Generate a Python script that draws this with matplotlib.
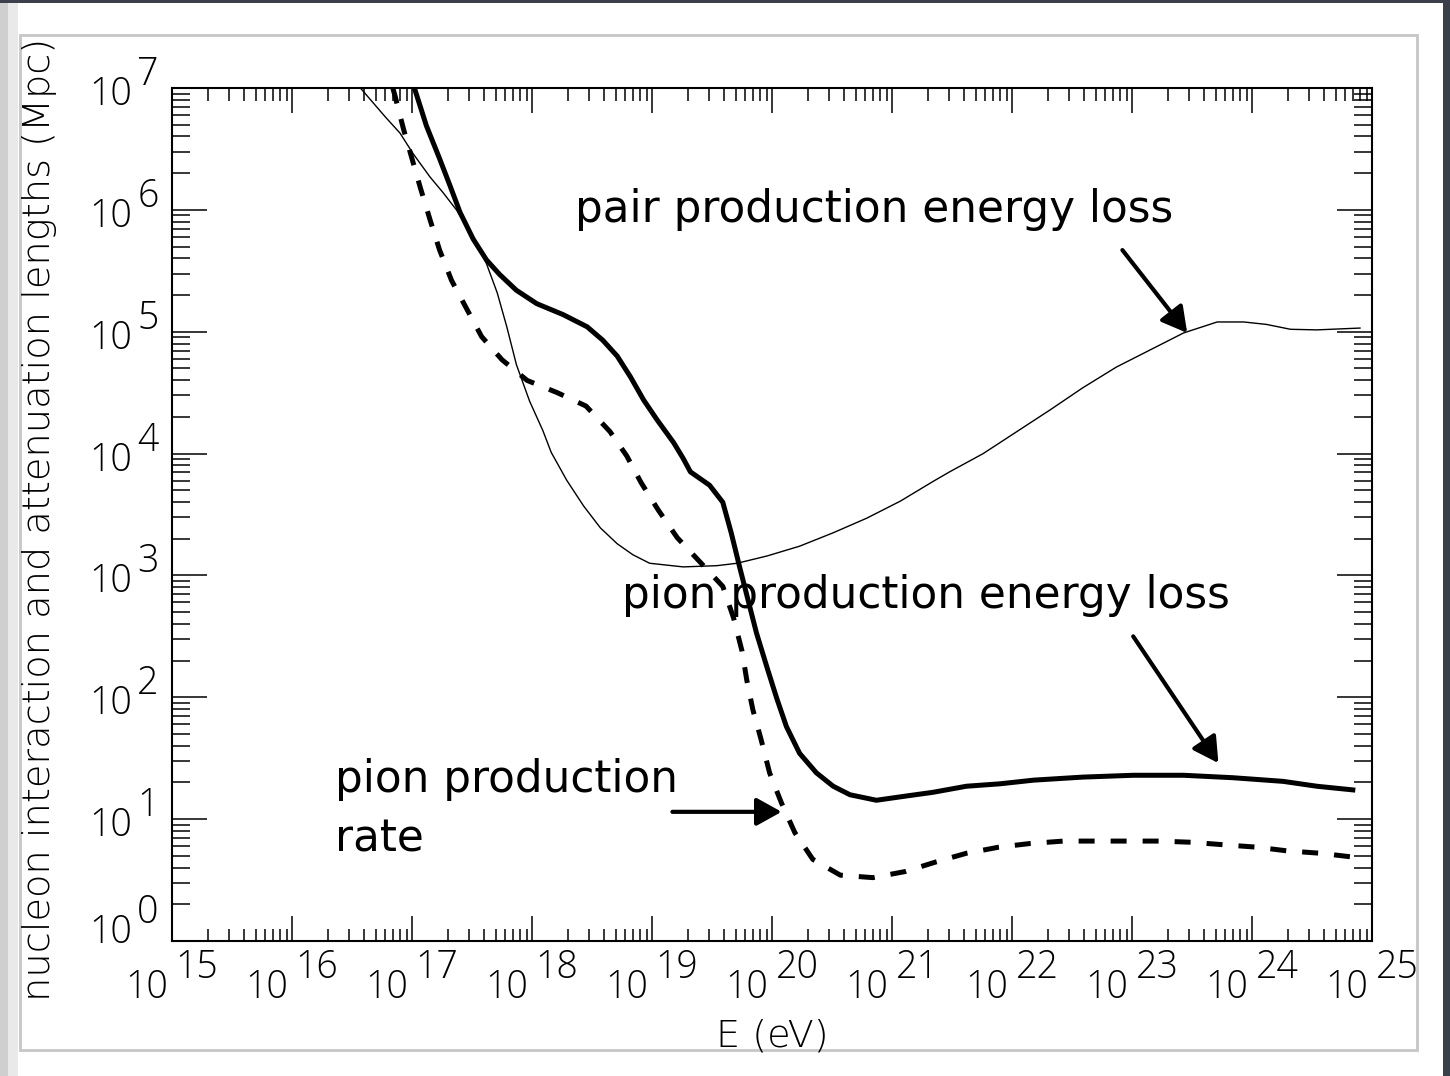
import matplotlib.pyplot as plt
import numpy as np
from matplotlib.patches import Rectangle
from matplotlib.ticker import LogLocator, NullFormatter

# curves: log10(E / eV) and log10(length / Mpc)
pair_logE = [16.57, 16.78, 16.9, 17.01, 17.15, 17.26, 17.37, 17.51, 17.62, 17.71,
             17.79, 17.87, 17.98, 18.09, 18.16, 18.29, 18.43, 18.57, 18.71, 18.84,
             18.98, 19.26, 19.54, 19.71, 19.96, 20.23, 20.51, 20.79, 21.07, 21.34,
             21.48, 21.76, 22.04, 22.32, 22.59, 22.87, 23.15, 23.43, 23.71, 23.93,
             24.12, 24.32, 24.54, 24.9]
pair_logL = [7.0, 6.76, 6.63, 6.46, 6.27, 6.14, 6.0, 5.78, 5.56, 5.32,
             5.04, 4.73, 4.43, 4.19, 4.01, 3.78, 3.57, 3.39, 3.26, 3.17,
             3.10, 3.07, 3.08, 3.10, 3.16, 3.24, 3.35, 3.47, 3.61, 3.77,
             3.85, 4.0, 4.18, 4.36, 4.54, 4.71, 4.85, 4.99, 5.08, 5.08,
             5.06, 5.02, 5.015, 5.03]

loss_logE = [17.02, 17.12, 17.23, 17.32, 17.40, 17.51, 17.62, 17.73, 17.87, 18.04,
             18.26, 18.46, 18.59, 18.71, 18.82, 18.93, 19.04, 19.18, 19.26, 19.32,
             19.48, 19.59, 19.66, 19.73, 19.80, 19.87, 19.96, 20.04, 20.12, 20.23,
             20.37, 20.51, 20.65, 20.87, 21.12, 21.34, 21.62, 21.9, 22.18, 22.59,
             23.01, 23.43, 23.84, 24.26, 24.54, 24.84]
loss_logL = [7.0, 6.69, 6.42, 6.19, 5.98, 5.76, 5.59, 5.47, 5.34, 5.23,
             5.14, 5.04, 4.93, 4.80, 4.63, 4.44, 4.28, 4.09, 3.96, 3.85,
             3.74, 3.60, 3.35, 3.07, 2.80, 2.53, 2.24, 1.99, 1.76, 1.54,
             1.38, 1.27, 1.20, 1.155, 1.19, 1.22, 1.27, 1.29, 1.32, 1.345,
             1.36, 1.36, 1.34, 1.31, 1.27, 1.24]

rate_logE = [16.84, 16.86, 16.93, 17.0, 17.07, 17.15, 17.23, 17.33, 17.46, 17.58,
             17.75, 17.96, 18.21, 18.45, 18.65, 18.79, 18.91, 19.05, 19.21, 19.41,
             19.59, 19.68, 19.75, 19.79, 19.84, 19.91, 19.98, 20.08, 20.19, 20.34,
             20.57, 20.84, 21.11, 21.37, 21.62, 21.89, 22.15, 22.43, 22.71, 22.97,
             23.23, 23.5, 23.76, 24.04, 24.29, 24.57, 24.83]
rate_logL = [7.0, 6.93, 6.66, 6.42, 6.18, 5.92, 5.67, 5.42, 5.18, 4.96,
             4.77, 4.60, 4.50, 4.39, 4.18, 3.98, 3.76, 3.54, 3.31, 3.10,
             2.91, 2.65, 2.38, 2.14, 1.90, 1.65, 1.38, 1.13, 0.89, 0.67,
             0.54, 0.52, 0.57, 0.65, 0.72, 0.77, 0.80, 0.82, 0.82, 0.82,
             0.82, 0.81, 0.79, 0.77, 0.74, 0.72, 0.69]

x_decades = list(range(15, 26))
y_decades = list(range(0, 8))

W, H = 1450, 1076
fig = plt.figure(figsize=(W / 100, H / 100), dpi=100, facecolor='white')

# slide-like frame around the plot
fig.add_artist(Rectangle((0, 0), 8 / W, 1, transform=fig.transFigure,
                         facecolor='#cfcfcf', edgecolor='none', zorder=-3))
fig.add_artist(Rectangle((8 / W, 0), 10 / W, 1, transform=fig.transFigure,
                         facecolor='#e9e9e9', edgecolor='none', zorder=-3))
fig.add_artist(Rectangle((0, 1 - 3 / H), 1, 3 / H, transform=fig.transFigure,
                         facecolor='#3c404a', edgecolor='none', zorder=-3))
fig.add_artist(Rectangle((1443 / W, 0), 7 / W, 1, transform=fig.transFigure,
                         facecolor='#3c404a', edgecolor='none', zorder=-3))
fig.add_artist(Rectangle((20 / W, 1 - 1050 / H), 1397 / W, 1015 / H,
                         transform=fig.transFigure, facecolor='white',
                         edgecolor='#c6c6c6', lw=2, zorder=-2))

ax = fig.add_axes([172 / W, 1 - 941 / H, 1200 / W, 853 / H])
ax.set_xscale('log')
ax.set_yscale('log')
ax.set_xlim(1e15, 1e25)
ax.set_ylim(1e0, 1e7)

ax.plot(10.0 ** np.array(pair_logE), 10.0 ** np.array(pair_logL), color='black', lw=1.0)
ax.plot(10.0 ** np.array(loss_logE), 10.0 ** np.array(loss_logL), color='black', lw=3.6,
        solid_joinstyle='round')
ax.plot(10.0 ** np.array(rate_logE), 10.0 ** np.array(rate_logL), color='black', lw=3.6,
        linestyle=(0, (3.2, 3.2)), dash_capstyle='butt')

for s in ax.spines.values():
    s.set_linewidth(1.5)

for axis in (ax.xaxis, ax.yaxis):
    axis.set_major_locator(LogLocator(base=10, numticks=100))
    axis.set_minor_locator(LogLocator(base=10, subs=np.arange(2, 10), numticks=100))
    axis.set_major_formatter(NullFormatter())
    axis.set_minor_formatter(NullFormatter())
ax.tick_params(which='both', direction='in', top=True, right=True, width=1.1, color='black')
ax.tick_params(axis='x', which='major', length=18)
ax.tick_params(axis='x', which='minor', length=9)
ax.tick_params(axis='y', which='major', length=25)
ax.tick_params(axis='y', which='minor', length=13)

tick_font = dict(family=['Open Sans', 'DejaVu Sans'], fontweight='light', fontsize=27, color='black')

for d in x_decades:
    ax.annotate('10', xy=(10.0 ** d, 0), xycoords=('data', 'axes fraction'),
                xytext=(-2.5, -41), textcoords='offset points', ha='right', va='baseline',
                annotation_clip=False, **tick_font)
    ax.annotate(str(d), xy=(10.0 ** d, 0), xycoords=('data', 'axes fraction'),
                xytext=(2.5, -26.6), textcoords='offset points', ha='left', va='baseline',
                annotation_clip=False, **tick_font)

for d in y_decades:
    base_dy = -12.2 if d > 0 else -1.5
    ax.annotate('10', xy=(0, 10.0 ** d), xycoords=('axes fraction', 'data'),
                xytext=(-29, base_dy), textcoords='offset points', ha='right', va='baseline',
                annotation_clip=False, **tick_font)
    ax.annotate(str(d), xy=(0, 10.0 ** d), xycoords=('axes fraction', 'data'),
                xytext=(-25, base_dy + 14.4), textcoords='offset points', ha='left',
                va='baseline', annotation_clip=False, **tick_font)

label_font = dict(family=['DejaVu Sans'], fontweight='light', fontsize=27.5, color='black')
fig.text(772 / W, 1 - 1036 / H, 'E (eV)', ha='center', va='center', **label_font)
fig.text(40 / W, 1 - 519 / H, 'nucleon interaction and attenuation lengths (Mpc)',
         rotation=90, ha='center', va='center', **label_font)

note_font = dict(family=['DejaVu Sans'], fontsize=31.5, color='black')
ax.text(10 ** 18.36, 10 ** 5.90, 'pair production energy loss', ha='left', va='baseline', **note_font)
ax.text(10 ** 18.75, 10 ** 2.734, 'pion production energy loss', ha='left', va='baseline', **note_font)
ax.text(10 ** 16.36, 10 ** 1.225, 'pion production', ha='left', va='baseline', **note_font)
ax.text(10 ** 16.36, 10 ** 0.733, 'rate', ha='left', va='baseline', **note_font)

arrow = dict(arrowstyle='-|>,head_length=0.45,head_width=0.25', lw=3, color='black',
             mutation_scale=34, shrinkA=0, shrinkB=0)
ax.annotate('', xy=(10 ** 23.46, 10 ** 4.99), xytext=(10 ** 22.92, 10 ** 5.67), arrowprops=arrow)
ax.annotate('', xy=(10 ** 23.72, 10 ** 1.46), xytext=(10 ** 23.01, 10 ** 2.50), arrowprops=arrow)
ax.annotate('', xy=(10 ** 20.08, 10 ** 1.06), xytext=(10 ** 19.17, 10 ** 1.06), arrowprops=arrow)

fig.savefig('out.png', dpi=100, facecolor=fig.get_facecolor())
